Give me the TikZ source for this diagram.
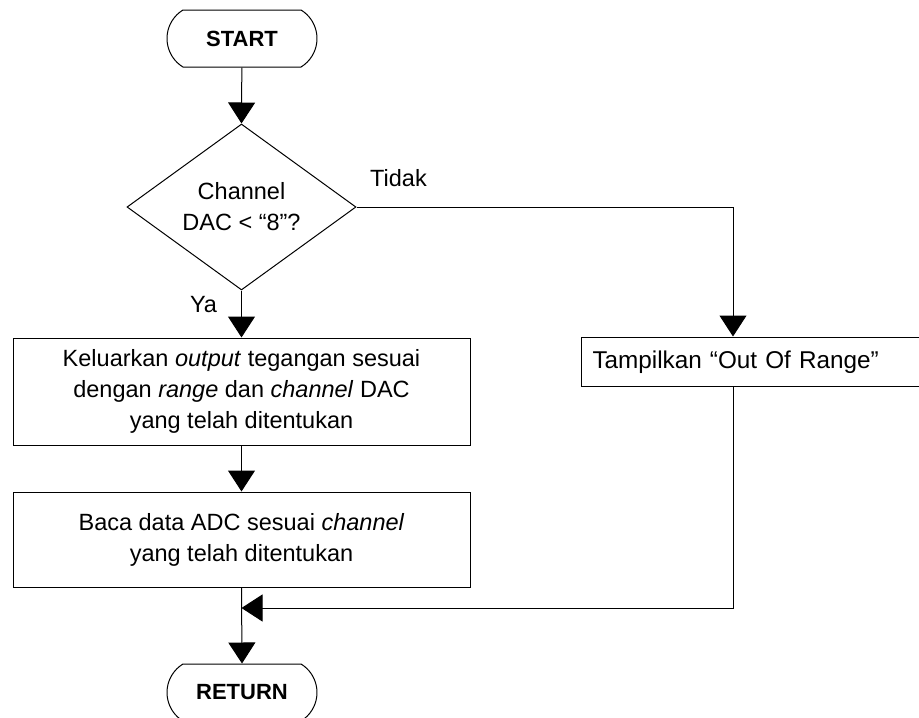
\documentclass[tikz,border=0pt]{standalone}
\usepackage{fontspec}
\setmainfont{Liberation Sans}
\usetikzlibrary{shapes.misc,shapes.geometric,arrows.meta}
\begin{document}
\begin{tikzpicture}[x=1pt,y=-1pt,
  txt/.style={font=\fontsize{23.5}{31}\selectfont},
  terminal/.style={draw, line width=1pt, rounded rectangle,
    rounded rectangle arc length=117, minimum width=150pt,
    minimum height=57pt, inner sep=0pt,
    font=\fontsize{22}{26}\selectfont\bfseries},
  decision/.style={draw, line width=1pt, diamond, minimum width=229pt,
    minimum height=166pt, inner sep=0pt},
  process/.style={draw, line width=1pt, rectangle, inner sep=0pt,
    align=center, txt},
  flow/.style={line width=1pt, -{Triangle[length=21pt,width=27pt]}},
  wire/.style={line width=1pt}
]
\useasboundingbox (0,0) rectangle (919,718);
\clip (0,0) rectangle (919,718);

% main column
\node[terminal] (start) at (242,38.5) {START};
\node[decision, label={[txt,align=center]center:{Channel\\DAC < “8”?}}]
  (dec) at (241.5,207) {};
\node[process, minimum width=457pt, minimum height=107pt] (out) at (241.5,391.5)
  {Keluarkan \textit{output} tegangan sesuai\\
   dengan \textit{range} dan \textit{channel} DAC\\
   yang telah ditentukan};
\node[process, minimum width=457pt, minimum height=95pt] (adc) at (241.5,539.5)
  {Baca data ADC sesuai \textit{channel}\\yang telah ditentukan};
\node[terminal] (ret) at (242,692.5) {RETURN};

% side branch
\node[process, anchor=west, minimum height=49.5pt, text width=325pt,
  inner xsep=11pt, align=left, font=\fontsize{24.3}{31}\selectfont]
  (range) at (581,361.75) {Tampilkan “Out Of Range”};

% branch labels
\node[txt] (ya) at (203.5,305) {Ya};
\node[txt] (tidak) at (398.5,178.5) {Tidak};

% routing points
\coordinate (rx) at (733,0);
\coordinate (merge) at (241.5,608);

% connectors
\draw[flow] (start) -- (dec.north);
\draw[flow] (dec.south) -- (out.north);
\draw[flow] (dec.east) -| (rx |- range.north);
\draw[flow] (out) -- (adc);
\draw[flow] (adc.south) -- (ret.north);
\draw[flow] (rx |- range.south) |- (merge);
\end{tikzpicture}
\end{document}
